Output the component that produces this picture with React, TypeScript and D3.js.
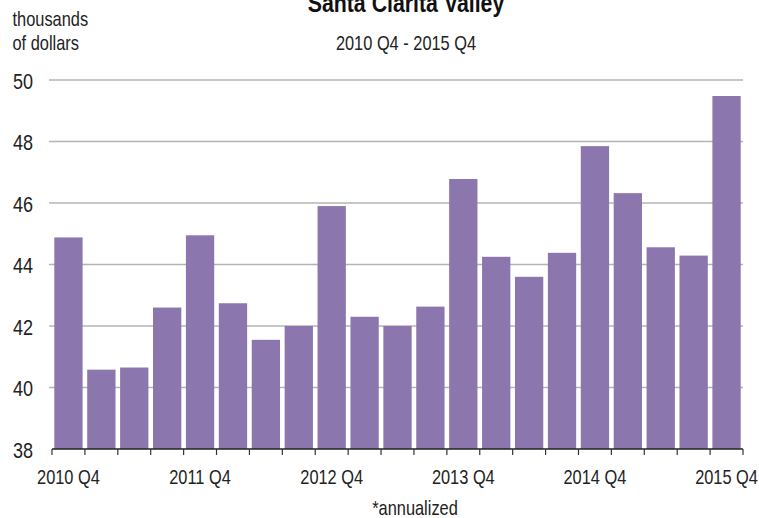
import React from "react";
import * as d3 from "d3";

const categories: string[] = [
  "2010 Q4", "2011 Q1", "2011 Q2", "2011 Q3",
  "2011 Q4", "2012 Q1", "2012 Q2", "2012 Q3",
  "2012 Q4", "2013 Q1", "2013 Q2", "2013 Q3",
  "2013 Q4", "2014 Q1", "2014 Q2", "2014 Q3",
  "2014 Q4", "2015 Q1", "2015 Q2", "2015 Q3",
  "2015 Q4",
];
const values: number[] = [
  44.88, 40.58, 40.65, 42.6,
  44.95, 42.74, 41.55, 42.0,
  45.9, 42.3, 42.0, 42.63,
  46.78, 44.25, 43.6, 44.38,
  47.85, 46.32, 44.56, 44.29,
  49.48,
];
const yTicks: number[] = [38, 40, 42, 44, 46, 48, 50];
const xLabelCats: string[] = ["2010 Q4", "2011 Q4", "2012 Q4", "2013 Q4", "2014 Q4", "2015 Q4"];

const title = "Santa Clarita Valley";
const subtitle = "2010 Q4 - 2015 Q4";
const unitLines = ["thousands", "of dollars"];
const note = "*annualized";

const W = 759;
const H = 518;
const FONT = "'Liberation Sans', Arial, sans-serif";
const SX = 0.82;

function NText(props: {
  x: number;
  y: number;
  size: number;
  anchor?: string;
  weight?: string;
  baseline?: string;
  fill?: string;
  children: React.ReactNode;
}) {
  const { x, y, size, anchor = "start", weight = "normal", baseline, fill = "#222", children } = props;
  return (
    <text
      transform={`translate(${x},${y}) scale(${SX},1)`}
      textAnchor={anchor}
      fontWeight={weight}
      fontSize={size}
      dominantBaseline={baseline}
      fill={fill}
    >
      {children}
    </text>
  );
}

export default function App() {
  const left = 52;
  const right = 743;
  const top = 80;
  const bottom = 449;

  const x = d3.scaleBand<string>().domain(categories).range([left, right]).paddingInner(0.14).paddingOuter(0.07);
  const y = d3.scaleLinear().domain([38, 50]).range([bottom, top]);
  const step = x.step();
  const tickXs = d3.range(categories.length + 1).map((i) => left + i * step);

  return (
    <svg
      width={W}
      height={H}
      style={{ position: "absolute", left: 0, top: 0, background: "#fff" }}
      fontFamily={FONT}
    >
      <rect x={0} y={0} width={W} height={H} fill="#fff" />
      <NText x={406} y={12} size={26} anchor="middle" weight="bold" fill="#111">
        {title}
      </NText>
      <NText x={406} y={49.5} size={20} anchor="middle">
        {subtitle}
      </NText>
      {unitLines.map((t, i) => (
        <NText key={t} x={12.5} y={26 + i * 24} size={20}>
          {t}
        </NText>
      ))}
      {yTicks.filter((t) => t > 38).map((t) => (
        <line key={t} x1={49} x2={right} y1={y(t)} y2={y(t)} stroke="#b4b4b4" strokeWidth={1.5} />
      ))}
      {yTicks.map((t) => (
        <NText key={t} x={33} y={y(t) + 1} size={22} anchor="end" baseline="central">
          {t}
        </NText>
      ))}
      {categories.map((c, i) => (
        <rect
          key={c}
          x={x(c)}
          y={y(values[i])}
          width={x.bandwidth()}
          height={y(38) - y(values[i])}
          fill="#8b77ad"
        />
      ))}
      <line x1={left} x2={right} y1={bottom} y2={bottom} stroke="#222" strokeWidth={1.5} />
      {tickXs.map((tx, i) => (
        <line key={i} x1={tx} x2={tx} y1={bottom} y2={bottom + 6} stroke="#333" strokeWidth={1.2} />
      ))}
      {xLabelCats.map((c) => (
        <NText key={c} x={(x(c) as number) + x.bandwidth() / 2} y={484} size={20} anchor="middle">
          {c}
        </NText>
      ))}
      <NText x={415} y={515} size={20} anchor="middle">
        {note}
      </NText>
    </svg>
  );
}
